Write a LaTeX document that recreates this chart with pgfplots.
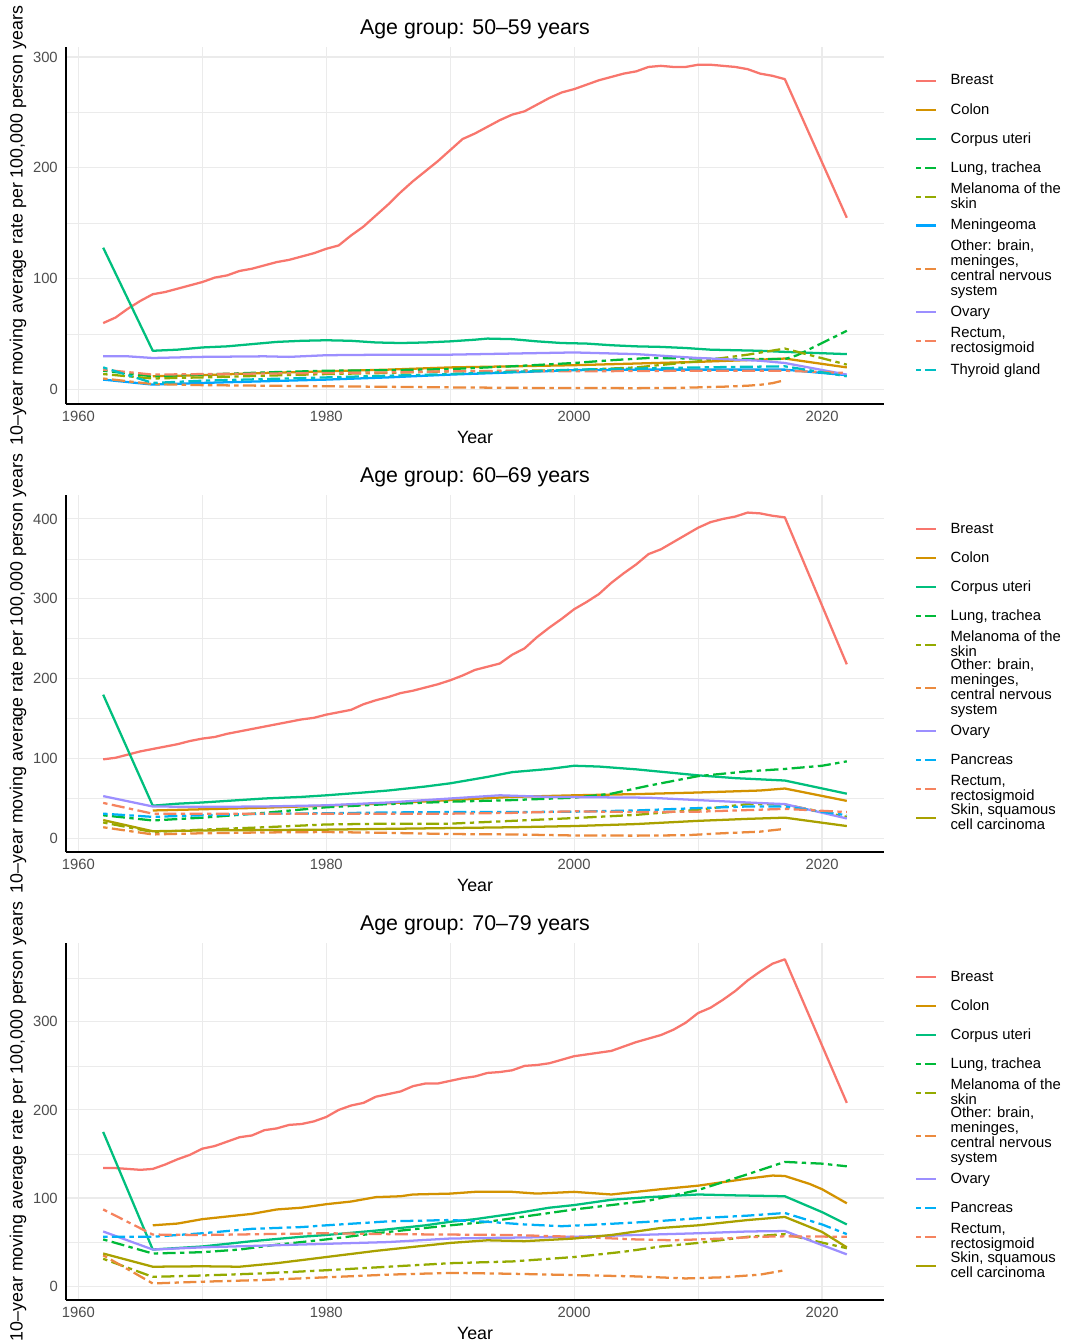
\documentclass[border=0pt]{standalone}
\usepackage{pgfplots}
\pgfplotsset{compat=1.18}
\usepackage{fontspec}
\setmainfont{Liberation Sans}
\definecolor{breastc}{HTML}{F8766D}
\definecolor{colonc}{HTML}{D39200}
\definecolor{corpusc}{HTML}{00BF7D}
\definecolor{lungc}{HTML}{00BA38}
\definecolor{melc}{HTML}{93AA00}
\definecolor{meningc}{HTML}{00A5FF}
\definecolor{otherc}{HTML}{EB8A3E}
\definecolor{ovaryc}{HTML}{9C8FFF}
\definecolor{pancc}{HTML}{00B0F6}
\definecolor{rectc}{HTML}{F5835F}
\definecolor{skinc}{HTML}{A9A100}
\definecolor{thyrc}{HTML}{00BFC4}
\definecolor{gridc}{HTML}{EBEBEB}
\definecolor{tickc}{HTML}{4D4D4D}
\pgfplotsset{
  ser/.style={line width=1.7pt, line join=round, solid},
  dd/.style={line width=1.7pt, line join=round, dash pattern=on 3.3pt off 3.3pt on 9.8pt off 3.3pt},
  panel/.style={
    scale only axis, width=613.5pt, height=267.75pt,
    xmin=1959, xmax=2025,
    xtick={1960,1980,2000,2020}, minor xtick={1970,1990,2010},
    axis x line*=bottom, axis y line*=left,
    axis line style={black, line width=1.1pt, -},
    major tick length=0pt, minor tick length=0pt,
    grid=both,
    major grid style={color=gridc, line width=0.8pt},
    minor grid style={color=gridc, line width=0.45pt},
    tick label style={font=\fontsize{11.1}{13}\selectfont, text=tickc},
    /pgf/number format/assume math mode=true,
    /pgf/number format/1000 sep={},
    xticklabel style={inner sep=0pt, yshift=-5pt, anchor=north},
    yticklabel style={inner sep=0pt, xshift=-6pt, anchor=east},
    xlabel={Year},
    ylabel={10–year moving average rate per 100,000 person years},
    label style={font=\fontsize{13.35}{15}\selectfont},
    xlabel style={at={(axis description cs:0.5,-0.0924)}, anchor=center},
    ylabel style={at={(axis description cs:-0.0587,0.5)}, anchor=center},
    title style={at={(axis description cs:0.5,1.028)}, anchor=center, font=\fontsize{16}{19}\selectfont},
    legend style={at={(1,0.5)}, anchor=west, xshift=23.25pt, draw=none, fill=none,
      inner sep=0pt, outer sep=0pt, row sep=0pt,
      font=\fontsize{11.1}{11.25}\selectfont,
      nodes={align=left, inner xsep=0pt, inner ysep=0pt, minimum height=21.7pt},
      /tikz/every odd column/.append style={column sep=10pt}},
    legend cell align=left,
    legend image code/.code={\draw[##1] (0pt,0pt) -- (15pt,0pt);},
  }
}
\begin{document}
\begin{tikzpicture}
% ---------------- Panel 1: 50-59 ----------------
\begin{axis}[panel, at={(49.5pt,-303pt)}, anchor=south west,
  ymin=-13, ymax=309, ytick={0,100,200,300}, minor ytick={50,150,250},
  title={Age group: 50–59 years}]
\addplot[ser, breastc] coordinates {(1962,60)(1963,65)(1964,73)(1965,80)(1966,86)(1967,88)(1968,91)(1969,94)(1970,97)(1971,101)(1972,103)(1973,107)(1974,109)(1975,112)(1976,115)(1977,117)(1978,120)(1979,123)(1980,127)(1981,130)(1982,139)(1983,147)(1984,157)(1985,167)(1986,178)(1987,188)(1988,197)(1989,206)(1990,216)(1991,226)(1992,231)(1993,237)(1994,243)(1995,248)(1996,251)(1997,257)(1998,263)(1999,268)(2000,271)(2001,275)(2002,279)(2003,282)(2004,285)(2005,287)(2006,291)(2007,292)(2008,291)(2009,291)(2010,293)(2011,293)(2012,292)(2013,291)(2014,289)(2015,285)(2016,283)(2017,280)(2022,155)};
\addlegendentry{Breast}
\addplot[ser, colonc] coordinates {(1966,12)(1970,13)(1975,15)(1980,16.5)(1985,18)(1990,20)(1995,21)(2000,22)(2005,23.5)(2010,25)(2015,27)(2017,28)(2022,20)};
\addlegendentry{Colon}
\addplot[ser, corpusc] coordinates {(1962,128)(1966,35)(1968,36)(1970,38)(1972,39)(1974,41)(1976,43)(1978,44)(1980,44.5)(1982,44)(1984,42.5)(1986,42)(1988,42.5)(1990,43.5)(1992,45)(1993,46)(1995,45.5)(1997,43.5)(1999,42)(2001,41.5)(2003,40)(2005,39)(2007,38.5)(2009,37.5)(2011,36)(2013,35.5)(2015,35)(2017,34)(2022,32)};
\addlegendentry{Corpus uteri}
\addplot[dd, lungc] coordinates {(1962,17)(1966,12)(1970,13.5)(1975,15.5)(1980,17)(1985,17.5)(1990,18.5)(1995,21)(2000,24)(2003,26.5)(2006,28.5)(2010,28)(2014,27.5)(2017,27.5)(2018,31)(2022,53)};
\addlegendentry{Lung, trachea}
\addplot[dd, melc] coordinates {(1962,14)(1966,10)(1970,11)(1975,12.5)(1980,14)(1985,15)(1990,16.5)(1995,17)(2000,17.5)(2005,20)(2010,25.5)(2014,31.5)(2017,37)(2022,22.5)};
\addlegendentry{Melanoma of the\\skin}
\addplot[ser, meningc] coordinates {(1962,9)(1966,4.5)(1970,6)(1975,7.5)(1980,9)(1985,11)(1990,13.5)(1995,15.5)(2000,17.5)(2005,18)(2010,18)(2017,18)(2022,13)};
\addlegendentry{Meningeoma}
\addplot[dd, otherc] coordinates {(1962,10)(1966,5)(1970,4)(1975,3.5)(1980,3)(1985,2.5)(1990,2)(1995,1.6)(2000,1.4)(2005,1.3)(2008,1.5)(2010,2)(2012,2.6)(2014,3.5)(2015,4.3)(2016,5.8)(2017,8.5)};
\addlegendentry{Other: brain,\\meninges,\\central nervous\\system}
\addplot[ser, ovaryc] coordinates {(1962,30)(1964,30)(1966,28.5)(1970,29.5)(1975,30)(1977,29.5)(1980,31)(1985,31.5)(1990,31.5)(1995,32.5)(2000,33.5)(2005,32)(2010,28.5)(2015,26)(2017,24)(2022,13.5)};
\addlegendentry{Ovary}
\addplot[dd, rectc] coordinates {(1962,18)(1966,13.5)(1970,14)(1975,14.5)(1980,15)(1985,15.5)(1990,16.5)(2000,16.5)(2010,17)(2017,17)(2022,15)};
\addlegendentry{Rectum,\\rectosigmoid}
\addplot[dd, thyrc] coordinates {(1962,20)(1966,6)(1970,8)(1975,9.5)(1980,11)(1985,12.5)(1990,14)(1995,16)(2000,18)(2005,19)(2010,20)(2017,21)(2022,12)};
\addlegendentry{Thyroid gland}
\end{axis}
% ---------------- Panel 2: 60-69 ----------------
\begin{axis}[panel, at={(49.5pt,-639pt)}, anchor=south west,
  ymin=-17, ymax=430, ytick={0,100,200,300,400}, minor ytick={50,150,250,350},
  title={Age group: 60–69 years}]
\addplot[ser, breastc] coordinates {(1962,99)(1963,101)(1964,105)(1965,109)(1966,112)(1967,115)(1968,118)(1969,122)(1970,125)(1971,127)(1972,131)(1973,134)(1974,137)(1975,140)(1976,143)(1977,146)(1978,149)(1979,151)(1980,155)(1981,158)(1982,161)(1983,168)(1984,173)(1985,177)(1986,182)(1987,185)(1988,189)(1989,193)(1990,198)(1991,204)(1992,211)(1993,215)(1994,219)(1995,230)(1996,238)(1997,252)(1998,264)(1999,275)(2000,287)(2001,296)(2002,306)(2003,320)(2004,332)(2005,343)(2006,356)(2007,362)(2008,371)(2009,380)(2010,389)(2011,396)(2012,400)(2013,403)(2014,408)(2015,407)(2016,404)(2017,402)(2022,218)};
\addlegendentry{Breast}
\addplot[ser, colonc] coordinates {(1966,35)(1970,36.5)(1975,38.5)(1980,41)(1985,44)(1990,48)(1995,52)(2000,54)(2005,55.5)(2010,57.5)(2015,60)(2017,62.5)(2022,47)};
\addlegendentry{Colon}
\addplot[ser, corpusc] coordinates {(1962,180)(1966,41)(1968,43.5)(1970,45)(1972,47)(1975,50)(1978,52)(1980,54)(1983,57.5)(1985,60)(1988,65)(1990,69)(1993,77)(1995,83)(1998,87)(2000,91)(2002,90)(2005,86.5)(2008,82)(2010,79)(2013,75.5)(2015,74)(2017,72.5)(2022,56)};
\addlegendentry{Corpus uteri}
\addplot[dd, lungc] coordinates {(1962,29)(1966,22.5)(1970,26)(1975,32)(1980,39)(1985,43)(1990,46)(1995,48)(2000,51)(2003,56)(2006,66)(2010,78)(2014,84)(2017,87)(2020,91)(2022,96.5)};
\addlegendentry{Lung, trachea}
\addplot[dd, melc] coordinates {(1962,20)(1966,8)(1970,11)(1975,14)(1980,17.5)(1985,18.5)(1990,18.5)(1995,22)(2000,25.5)(2005,29.5)(2010,36)(2014,43)(2017,42.5)(2022,27)};
\addlegendentry{Melanoma of the\\skin}
\addplot[dd, otherc] coordinates {(1962,14)(1966,5)(1970,6.5)(1975,7.5)(1980,8)(1985,7)(1990,5.5)(1995,5)(2000,3.7)(2005,3.5)(2009,4)(2012,6.5)(2015,8.5)(2017,12)};
\addlegendentry{Other: brain,\\meninges,\\central nervous\\system}
\addplot[ser, ovaryc] coordinates {(1962,53)(1966,40)(1970,39.5)(1975,40)(1980,41.5)(1985,45)(1990,50)(1994,54)(1998,52)(2002,51.5)(2006,51)(2010,48)(2014,45)(2017,43)(2022,25)};
\addlegendentry{Ovary}
\addplot[dd, pancc] coordinates {(1962,31)(1966,27)(1970,29)(1975,31)(1980,31.5)(1985,32.5)(1990,33)(1995,33)(2000,33.5)(2005,35)(2010,38)(2014,40)(2017,40)(2022,29)};
\addlegendentry{Pancreas}
\addplot[dd, rectc] coordinates {(1962,44.5)(1966,31)(1970,31)(1975,31)(1980,31)(1985,31)(1990,31)(1995,32)(2000,34)(2005,33)(2010,33.5)(2014,35.5)(2017,37)(2022,33)};
\addlegendentry{Rectum,\\rectosigmoid}
\addplot[ser, skinc] coordinates {(1962,23)(1966,9)(1970,10)(1975,10.5)(1980,11)(1985,12)(1990,13)(1995,14)(2000,15.5)(2005,18)(2010,22)(2014,24.5)(2017,26)(2022,15.5)};
\addlegendentry{Skin, squamous\\cell carcinoma}
\end{axis}
% ---------------- Panel 3: 70-79 ----------------
\begin{axis}[panel, at={(49.5pt,-975pt)}, anchor=south west,
  ymin=-15.8, ymax=389.5, ytick={0,100,200,300}, minor ytick={50,150,250,350},
  title={Age group: 70–79 years}]
\addplot[ser, breastc] coordinates {(1962,134)(1963,134)(1964,133)(1965,132)(1966,133)(1967,138)(1968,144)(1969,149)(1970,156)(1971,159)(1972,164)(1973,169)(1974,171)(1975,177)(1976,179)(1977,183)(1978,184)(1979,187)(1980,192)(1981,200)(1982,205)(1983,208)(1984,215)(1985,218)(1986,221)(1987,227)(1988,230)(1989,230)(1990,233)(1991,236)(1992,238)(1993,242)(1994,243)(1995,245)(1996,250)(1997,251)(1998,253)(1999,257)(2000,261)(2001,263)(2002,265)(2003,267)(2004,272)(2005,277)(2006,281)(2007,285)(2008,291)(2009,299)(2010,310)(2011,316)(2012,325)(2013,335)(2014,347)(2015,357)(2016,366)(2017,371)(2022,208)};
\addlegendentry{Breast}
\addplot[ser, colonc] coordinates {(1966,69)(1967,70)(1968,71)(1970,76)(1972,79)(1974,82)(1976,87)(1978,89)(1980,93)(1982,96)(1984,101)(1986,102)(1987,104)(1990,105)(1992,107)(1995,107)(1997,105)(2000,107)(2003,104)(2005,107)(2007,110)(2010,114)(2012,118)(2014,122)(2016,125.5)(2017,125)(2019,116)(2020,110)(2022,94)};
\addlegendentry{Colon}
\addplot[ser, corpusc] coordinates {(1962,175)(1966,41.5)(1970,45)(1974,51)(1978,56)(1980,58)(1984,63)(1988,69)(1990,73)(1992,76)(1995,82)(1998,89)(2000,92)(2003,98)(2006,101)(2010,104)(2013,103)(2017,102)(2020,84)(2022,70)};
\addlegendentry{Corpus uteri}
\addplot[dd, lungc] coordinates {(1962,53)(1966,37)(1970,38.5)(1973,41.5)(1976,47)(1980,53)(1984,60)(1988,66)(1990,69)(1993,73)(1996,79)(2000,87)(2003,92)(2006,97)(2010,109)(2014,127)(2017,141)(2020,139)(2022,136)};
\addlegendentry{Lung, trachea}
\addplot[dd, melc] coordinates {(1962,31)(1966,10.5)(1970,12)(1975,14.5)(1980,18)(1985,22)(1990,26)(1995,28)(2000,33)(2004,39)(2007,45)(2010,49)(2014,56)(2017,59)(2022,43)};
\addlegendentry{Melanoma of the\\skin}
\addplot[dd, otherc] coordinates {(1962,35)(1966,3)(1970,5)(1975,7)(1980,10)(1985,13)(1990,15)(1995,14)(2000,12.5)(2005,11)(2009,8.7)(2012,10)(2015,13)(2017,18)};
\addlegendentry{Other: brain,\\meninges,\\central nervous\\system}
\addplot[ser, ovaryc] coordinates {(1962,62)(1966,41.5)(1970,44)(1975,46)(1980,48)(1985,50)(1990,54)(1995,55)(2000,56)(2005,58)(2010,60)(2014,62)(2017,62.5)(2022,36)};
\addlegendentry{Ovary}
\addplot[dd, pancc] coordinates {(1962,56)(1966,56)(1970,60)(1974,65)(1978,67)(1980,69)(1985,73.5)(1990,75)(1993,73)(1996,70)(1999,68)(2002,70)(2006,73)(2010,77)(2014,80)(2017,83)(2020,70)(2022,59)};
\addlegendentry{Pancreas}
\addplot[dd, rectc] coordinates {(1962,87)(1966,58.5)(1970,58)(1975,59)(1980,60)(1985,59)(1990,58.5)(1995,58)(2000,56)(2005,53)(2008,52)(2012,54)(2015,56)(2017,56.5)(2022,56)};
\addlegendentry{Rectum,\\rectosigmoid}
\addplot[ser, skinc] coordinates {(1962,37)(1966,22)(1970,22.5)(1973,22)(1976,26)(1980,33)(1984,40)(1987,44.5)(1990,49)(1993,52)(1996,51)(2000,54)(2003,58)(2007,66)(2010,69)(2014,75)(2017,78.5)(2020,61.5)(2022,44)};
\addlegendentry{Skin, squamous\\cell carcinoma}
\end{axis}
\pgfresetboundingbox
\useasboundingbox (0pt,0pt) rectangle (798pt,-1005.75pt);
\end{tikzpicture}
\end{document}
